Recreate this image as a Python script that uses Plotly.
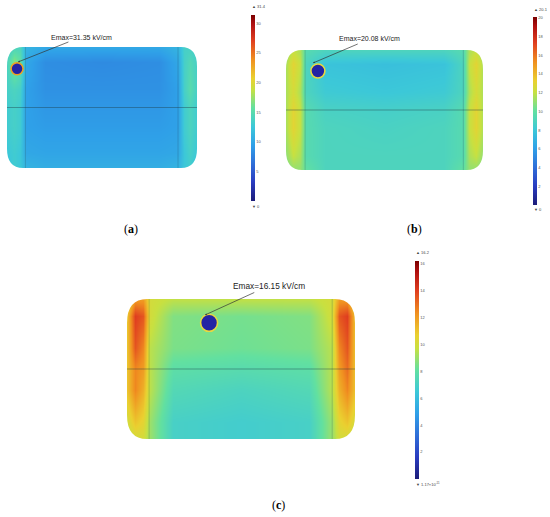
import plotly.graph_objects as go

W, H = 550, 517

# sample positions (fraction of length / of height)
pos_x = [0, 0.035, 0.07, 0.1, 0.2, 0.5, 0.8, 0.9, 0.93, 0.965, 1]
pos_y = [0, 0.12, 0.35, 0.5, 0.65, 0.88, 1]

# field strength (kV/cm), rows bottom -> top
field_a = [
    [12, 13, 12.5, 11, 10.5, 10.5, 10.5, 11, 12.5, 13, 12],
    [12.5, 13, 12.5, 10, 9.8, 9.8, 9.8, 10, 12.5, 13.5, 12.5],
    [13, 13.5, 13, 9.5, 9.2, 9.2, 9.2, 9.5, 13, 14, 13],
    [13, 13.5, 13, 9.5, 8.9, 8.9, 8.9, 9.5, 13, 14, 13],
    [13.5, 14, 13.5, 9.5, 8.5, 8.5, 8.5, 9.5, 13.5, 15, 13.5],
    [14, 17, 15.5, 10, 8.3, 8.1, 8.3, 10, 13.5, 14.5, 13.5],
    [13, 14, 14, 11, 10, 10, 10, 11, 13.5, 13.5, 13],
]
field_b = [
    [10.5, 11, 11, 10, 9, 9, 9, 10, 11, 11, 10.5],
    [11, 12, 11.5, 9.5, 9, 9, 9, 9.5, 11.5, 12, 11],
    [11.5, 13, 12, 9.5, 9, 8.8, 9, 9.5, 12, 13, 11.5],
    [11.5, 13, 12, 9.5, 8.8, 8.6, 8.8, 9.5, 12, 13, 11.5],
    [11.5, 12.5, 11.5, 9, 8.2, 8.0, 8.2, 9, 11.5, 12.5, 11.5],
    [11.5, 13, 12, 9, 7.8, 7.6, 7.8, 9, 12, 13, 11.5],
    [11, 12, 11.5, 9.5, 9, 9, 9, 9.5, 11.5, 12, 11],
]
field_c = [
    [9.5, 10, 10, 9, 7, 6.8, 7, 9, 10, 10, 9.5],
    [10, 11, 10.5, 9, 7, 6.8, 7, 9, 10.5, 11, 10],
    [11, 12.5, 11.5, 9.5, 7.5, 7.2, 7.5, 9.5, 11.5, 12.5, 11],
    [11, 12.5, 12, 9.5, 7.9, 7.7, 7.9, 9.5, 12, 13, 11],
    [11, 13.5, 12.5, 9.5, 8.5, 8.3, 8.5, 9.5, 12.5, 13.5, 11],
    [11, 14, 13.5, 10, 8.6, 8.4, 8.6, 10, 13.5, 14, 11],
    [10, 12, 12, 10, 9.6, 9.6, 9.6, 10, 12, 12, 10],
]

emax = [31.35, 20.08, 16.15]
scale_max = [31.4, 20.1, 16.2]
scale_min = ["0", "0", "1.17×10<sup>-11</sup>"]
ticks_a = [5, 10, 15, 20, 25, 30]
ticks_b = [2, 4, 6, 8, 10, 12, 14, 16, 18, 20]
ticks_c = [2, 4, 6, 8, 10, 12, 14, 16]
hole_x = [0.053, 0.162, 0.36]
hole_y = [0.82, 0.825, 0.83]
seam_x = [0.097, 0.9]
labels = ["a", "b", "c"]

# COMSOL-like rainbow
rainbow = [
    [0.0, "#1c1c78"], [0.1, "#2a3cc0"], [0.2, "#2f6ed8"], [0.3, "#2fa0e8"],
    [0.4, "#3cc8d8"], [0.5, "#62e0a0"], [0.6, "#c8e040"], [0.66, "#ead030"],
    [0.76, "#f09020"], [0.86, "#e04020"], [0.95, "#b01010"], [1.0, "#7a0000"],
]

# pixel layout of each panel
panels = [
    dict(box=(7, 47, 197, 168), r=16, hole_r=6, ring="#f0a020", bar=(251, 15, 201),
         label=(131, 229), text=(53, 37, 7, 56), head=(18, 62)),
    dict(box=(286, 50, 483, 170), r=16, hole_r=7, ring="#e8d840", bar=(533, 17, 205),
         label=(414, 229), text=(341, 39, 7, 57), head=(313, 63)),
    dict(box=(127, 299, 355, 439), r=20, hole_r=8.5, ring="#e8d840", bar=(415, 261, 479),
         label=(278, 505), text=(235, 286, 8.3, 67), head=(205, 315)),
]
fields = [field_a, field_b, field_c]
tick_sets = [ticks_a, ticks_b, ticks_c]

fig = go.Figure()
shapes = []
annotations = []
layout = {}

for i, p in enumerate(panels):
    n = "" if i == 0 else str(i + 1)
    x0, y0, x1, y1 = p["box"]
    bx, by0, by1 = p["bar"]
    fig.add_trace(go.Heatmap(
        x=pos_x, y=pos_y, z=fields[i], zsmooth="best",
        colorscale=rainbow, zmin=0, zmax=scale_max[i],
        xaxis="x" + n, yaxis="y" + n, hoverinfo="skip",
        colorbar=dict(thickness=4, thicknessmode="pixels",
                      len=by1 - by0, lenmode="pixels",
                      x=bx / W, xanchor="left", xpad=0,
                      y=1 - (by0 + by1) / 2 / H, yanchor="middle", ypad=0,
                      outlinewidth=0, ticks="", tickvals=tick_sets[i],
                      tickfont=dict(size=4, color="#555", family="Liberation Sans")),
    ))
    layout["xaxis" + n] = dict(domain=[x0 / W, x1 / W], range=[0, 1], visible=False,
                               anchor="y" + n, fixedrange=True)
    layout["yaxis" + n] = dict(domain=[1 - y1 / H, 1 - y0 / H], range=[0, 1], visible=False,
                               anchor="x" + n, fixedrange=True)

    xr, yr = "x" + n, "y" + n
    rx = p["r"] / (x1 - x0)
    ry = p["r"] * 1.2 / (y1 - y0)
    e = 0.03
    corners = [
        f"M {-e},{1+e} L {rx},{1+e} L {rx},1 Q 0,1 0,{1-ry} L {-e},{1-ry} Z",
        f"M {1+e},{1+e} L {1-rx},{1+e} L {1-rx},1 Q 1,1 1,{1-ry} L {1+e},{1-ry} Z",
        f"M {-e},{-e} L {rx},{-e} L {rx},0 Q 0,0 0,{ry} L {-e},{ry} Z",
        f"M {1+e},{-e} L {1-rx},{-e} L {1-rx},0 Q 1,0 1,{ry} L {1+e},{ry} Z",
    ]
    for c in corners:
        shapes.append(dict(type="path", path=c, xref=xr, yref=yr,
                           fillcolor="white", line=dict(width=0)))
    shapes.append(dict(type="line", xref=xr, yref=yr, x0=0, x1=1, y0=0.5, y1=0.5,
                       line=dict(color="rgba(30,60,70,0.6)", width=0.7)))
    for sx in seam_x:
        shapes.append(dict(type="line", xref=xr, yref=yr, x0=sx, x1=sx, y0=0, y1=1,
                           line=dict(color="rgba(30,60,70,0.35)", width=0.6)))
    hr = p["hole_r"]
    shapes.append(dict(type="circle", xref=xr, yref=yr, xsizemode="pixel", ysizemode="pixel",
                       xanchor=hole_x[i], yanchor=hole_y[i], x0=-hr, x1=hr, y0=-hr, y1=hr,
                       fillcolor="#2424a4", line=dict(color=p["ring"], width=1.6)))

    # label with a leader line down to the hole
    tx, ty, ts, tw = p["text"]
    hx, hy = p["head"]
    annotations.append(dict(text=f"Emax={emax[i]} kV/cm", xref="paper", yref="paper",
                            x=hx / W, y=1 - hy / H,
                            ax=tx + tw / 2 - hx, ay=ty - hy,
                            showarrow=True, arrowhead=2, arrowsize=0.5, arrowwidth=0.7,
                            arrowcolor="#333", standoff=0, startstandoff=0,
                            font=dict(size=ts, color="#222", family="Liberation Sans")))
    lx, ly = p["label"]
    annotations.append(dict(text=f"(<b>{labels[i]}</b>)", xref="paper", yref="paper",
                            x=lx / W, y=1 - ly / H, xanchor="center", yanchor="middle",
                            showarrow=False,
                            font=dict(size=12, color="black", family="Liberation Serif")))
    annotations.append(dict(text=f"▲ {scale_max[i]}", xref="paper", yref="paper",
                            x=(bx - 1) / W, y=1 - (by0 - 8) / H, xanchor="left",
                            yanchor="middle", showarrow=False,
                            font=dict(size=4, color="#444", family="Liberation Sans")))
    annotations.append(dict(text=f"▼ {scale_min[i]}", xref="paper", yref="paper",
                            x=(bx - 1) / W, y=1 - (by1 + 5) / H, xanchor="left",
                            yanchor="middle", showarrow=False,
                            font=dict(size=4, color="#444", family="Liberation Sans")))

fig.update_layout(
    width=W, height=H, margin=dict(l=0, r=0, t=0, b=0),
    paper_bgcolor="white", plot_bgcolor="white",
    shapes=shapes, annotations=annotations, showlegend=False,
    **layout,
)

# page has a default 8px body margin; drop it so the figure fills the window
fig.write_html("out.html", config={"displayModeBar": False},
               post_script="document.body.style.margin = '0';")
